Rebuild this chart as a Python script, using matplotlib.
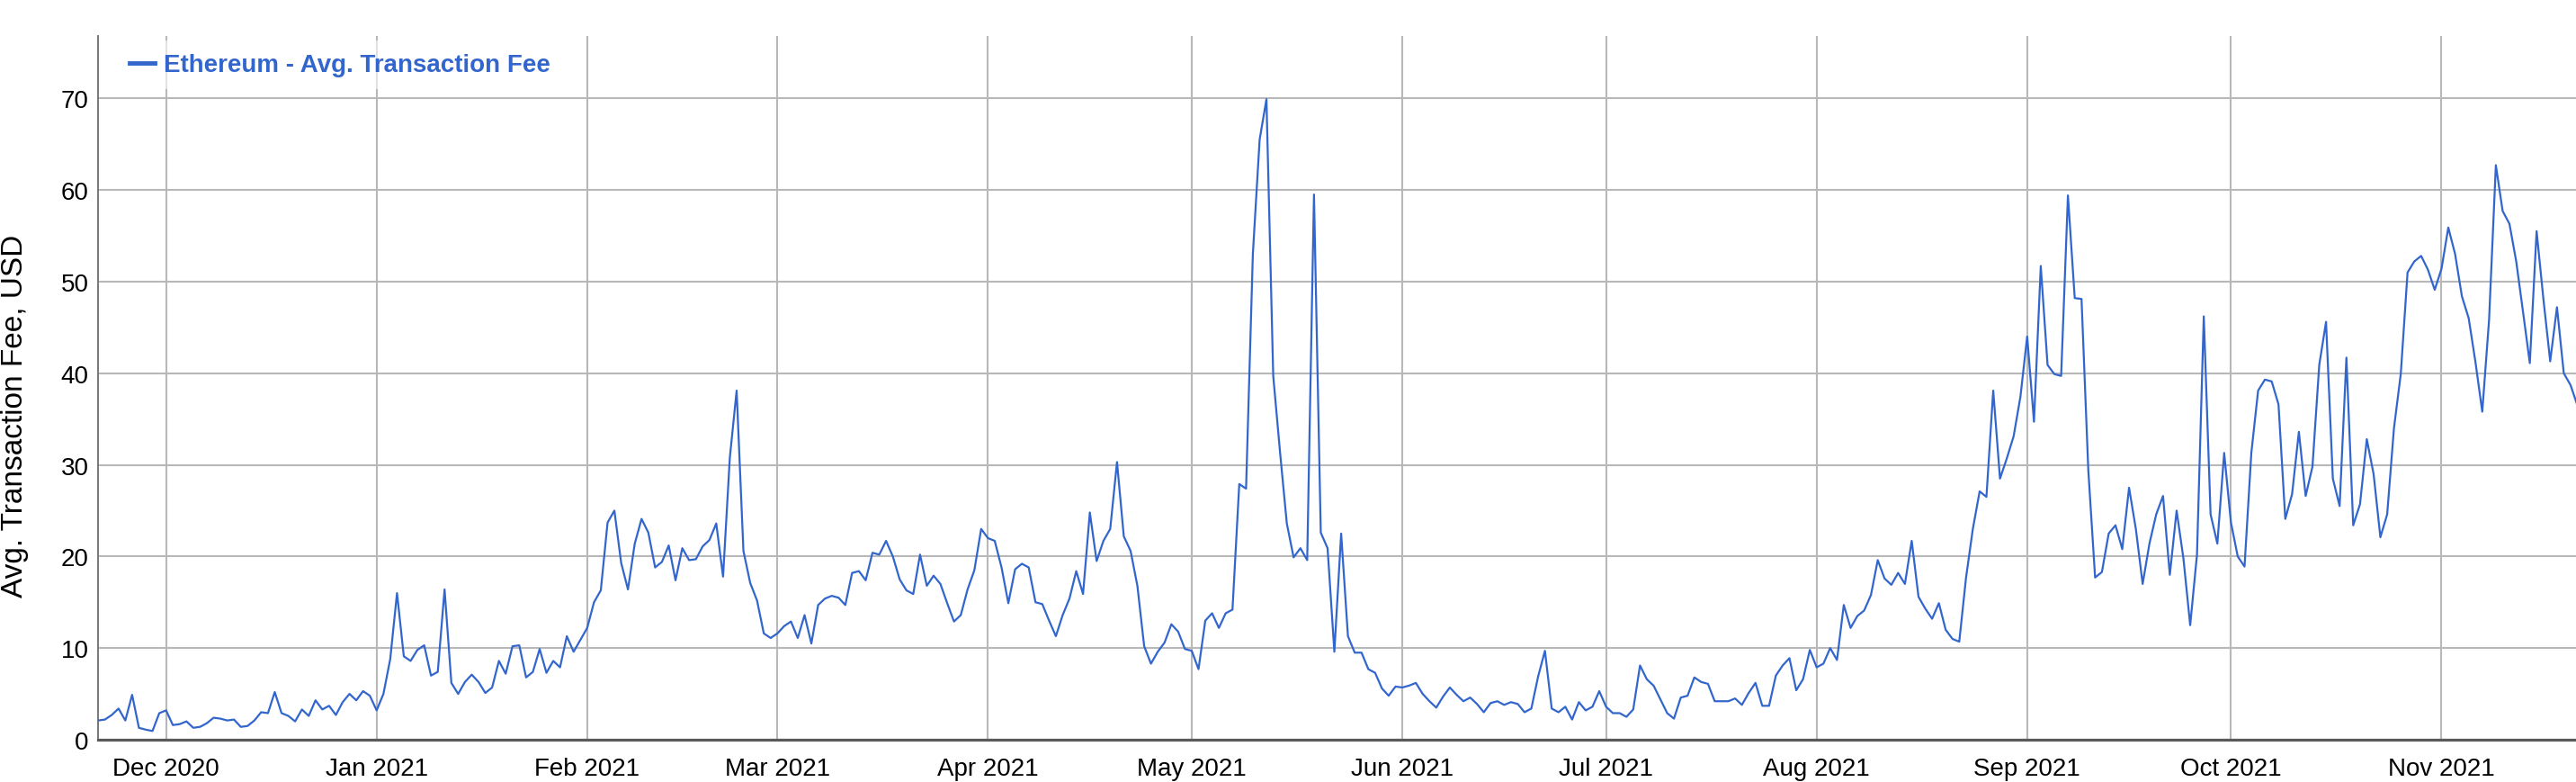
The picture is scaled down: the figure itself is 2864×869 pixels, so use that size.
import matplotlib
matplotlib.use("Agg")
import matplotlib.pyplot as plt
import matplotlib.dates as mdates
import pandas as pd

plt.rcParams['font.family'] = ['Liberation Sans', 'DejaVu Sans']

# daily average fee in USD, starting 21 Nov 2020
start_date = "2020-11-21"
fees = [
    2.1, 2.2, 2.7, 3.4, 2.1, 4.9, 1.3, 1.1, 0.95, 2.9,
    3.2, 1.6, 1.7, 2.0, 1.3, 1.4, 1.8, 2.4, 2.3, 2.1,
    2.2, 1.4, 1.5, 2.1, 3.0, 2.9, 5.2, 2.9, 2.6, 2.0,
    3.3, 2.6, 4.3, 3.3, 3.7, 2.7, 4.1, 5.0, 4.3, 5.3,
    4.8, 3.2, 5.0, 8.8, 16.0, 9.1, 8.6, 9.8, 10.3, 7.0,
    7.4, 16.4, 6.2, 5.0, 6.3, 7.1, 6.3, 5.1, 5.7, 8.6,
    7.2, 10.2, 10.3, 6.8, 7.4, 9.9, 7.3, 8.6, 7.9, 11.3,
    9.6, 10.9, 12.2, 15.0, 16.3, 23.7, 25.0, 19.3, 16.4, 21.4,
    24.1, 22.6, 18.8, 19.4, 21.2, 17.4, 20.9, 19.6, 19.7, 21.1,
    21.8, 23.6, 17.8, 30.8, 38.1, 20.6, 17.1, 15.2, 11.6, 11.1,
    11.6, 12.4, 12.9, 11.1, 13.6, 10.5, 14.7, 15.4, 15.7, 15.5,
    14.7, 18.2, 18.4, 17.4, 20.4, 20.2, 21.7, 20.0, 17.5, 16.3,
    15.9, 20.2, 16.8, 17.9, 17.0, 14.9, 12.9, 13.6, 16.4, 18.5,
    23.0, 22.0, 21.7, 18.8, 14.9, 18.6, 19.2, 18.8, 15.0, 14.8,
    13.0, 11.3, 13.6, 15.4, 18.4, 15.9, 24.8, 19.5, 21.7, 23.0,
    30.3, 22.2, 20.6, 16.8, 10.2, 8.3, 9.6, 10.6, 12.6, 11.8,
    9.9, 9.7, 7.7, 13.0, 13.8, 12.2, 13.8, 14.2, 27.9, 27.4,
    53.0, 65.5, 69.9, 39.7, 31.4, 23.6, 19.9, 20.9, 19.6, 59.5,
    22.6, 20.9, 9.6, 22.5, 11.3, 9.5, 9.5, 7.7, 7.3, 5.6,
    4.8, 5.8, 5.7, 5.9, 6.2, 5.0, 4.2, 3.5, 4.7, 5.7,
    4.9, 4.2, 4.6, 3.9, 3.0, 4.0, 4.2, 3.8, 4.1, 3.9,
    3.0, 3.4, 6.9, 9.7, 3.4, 3.0, 3.6, 2.2, 4.1, 3.2,
    3.6, 5.3, 3.6, 2.9, 2.9, 2.5, 3.3, 8.1, 6.6, 5.9,
    4.4, 2.9, 2.3, 4.6, 4.8, 6.8, 6.3, 6.1, 4.2, 4.2,
    4.2, 4.5, 3.8, 5.1, 6.2, 3.7, 3.7, 7.0, 8.1, 8.9,
    5.4, 6.6, 9.8, 7.9, 8.3, 10.0, 8.7, 14.7, 12.2, 13.5,
    14.1, 15.8, 19.6, 17.6, 16.9, 18.2, 17.0, 21.7, 15.6, 14.3,
    13.2, 14.9, 12.0, 11.0, 10.7, 17.7, 23.0, 27.1, 26.5, 38.1,
    28.5, 30.7, 33.1, 37.4, 44.0, 34.7, 51.7, 40.9, 39.9, 39.7,
    59.4, 48.2, 48.1, 29.4, 17.7, 18.3, 22.5, 23.4, 20.8, 27.5,
    23.0, 17.0, 21.4, 24.6, 26.6, 18.0, 25.0, 19.8, 12.5, 20.2,
    46.2, 24.6, 21.4, 31.3, 23.7, 20.0, 18.9, 31.3, 38.1, 39.3,
    39.1, 36.6, 24.1, 26.8, 33.6, 26.6, 29.8, 40.9, 45.6, 28.5,
    25.5, 41.7, 23.4, 25.7, 32.8, 29.0, 22.1, 24.6, 34.0, 39.9,
    51.0, 52.2, 52.8, 51.3, 49.1, 51.4, 55.9, 53.0, 48.4, 46.0,
    41.2, 35.8, 45.8, 62.7, 57.7, 56.3, 52.2, 46.7, 41.1, 55.5,
    48.1, 41.3, 47.2, 40.0, 38.7, 36.5,
]
series_label = "Ethereum - Avg. Transaction Fee"
y_label = "Avg. Transaction Fee, USD"
y_ticks = [0, 10, 20, 30, 40, 50, 60, 70]

dates = pd.date_range(start_date, periods=len(fees), freq="D")

blue = "#3366cc"
grid_gray = "#b8b8b8"

fig = plt.figure(figsize=(28.64, 8.70), dpi=100)
ax = fig.add_axes([108.5 / 2864, 47 / 870, 1 - 108.5 / 2864, 782 / 870])

ax.plot(dates, fees, color=blue, lw=1.6, label=series_label, zorder=3)

t0 = pd.Timestamp(start_date)
ax.set_xlim(t0 - pd.Timedelta(hours=2), t0 + pd.Timedelta(days=364.8))
ax.set_ylim(0, 76.8)
ax.set_yticks(y_ticks)

ax.xaxis.set_major_locator(mdates.MonthLocator())
ax.xaxis.set_major_formatter(mdates.DateFormatter("%b %Y"))

ax.grid(True, color=grid_gray, lw=1.5, zorder=0)
ax.tick_params(axis="both", length=0, labelsize=20, colors="black")
ax.tick_params(axis="x", pad=14)
ax.tick_params(axis="y", pad=7)

for side in ("top", "right"):
    ax.spines[side].set_visible(False)
ax.spines["left"].set_color("#777777")
ax.spines["left"].set_linewidth(1.4)
ax.spines["bottom"].set_color("#5a5a5a")
ax.spines["bottom"].set_linewidth(2.3)

ax.set_ylabel(y_label, fontsize=24)
ax.yaxis.set_label_coords(-0.0278, 0.461)

leg = ax.legend(loc="upper left", bbox_to_anchor=(0.008, 0.993), frameon=True,
                borderaxespad=0, handlelength=1.0, handletextpad=0.35,
                borderpad=0.5, prop={"size": 20, "weight": "bold"},
                labelcolor=blue)
leg.get_frame().set_facecolor("white")
leg.get_frame().set_alpha(0.6)
leg.get_frame().set_edgecolor("none")
leg.get_frame().set_boxstyle("square", pad=0)
for line in leg.get_lines():
    line.set_linewidth(3.5)

fig.savefig("out.png", dpi=100)
